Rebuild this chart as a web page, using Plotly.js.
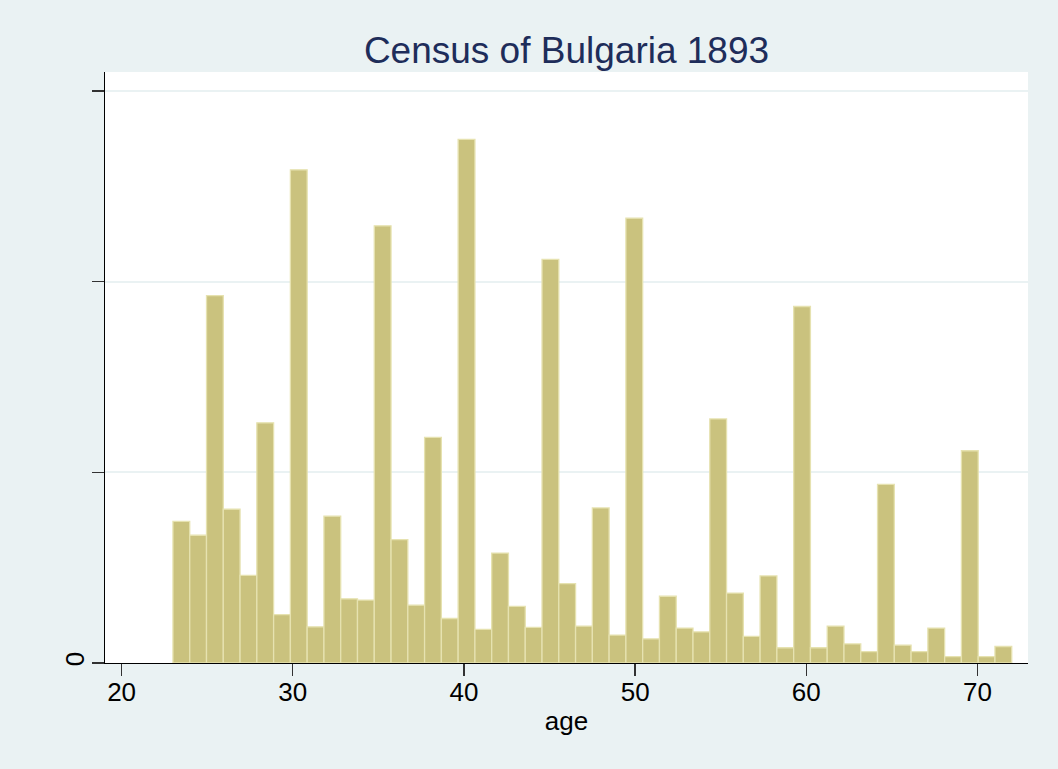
<!DOCTYPE html>
<html>
<head>
<meta charset="utf-8">
<script src="https://cdn.plot.ly/plotly-3.0.1.min.js"></script>
<style>
  html, body { margin: 0; padding: 0; background: rgb(234,242,243); }
  #chart { width: 1058px; height: 769px; }
</style>
</head>
<body>
<div id="chart"></div>
<script>
// Ages (one histogram bin per single year of age)
const ages = [23,24,25,26,27,28,29,30,31,32,33,34,35,36,37,38,39,40,41,42,
              43,44,45,46,47,48,49,50,51,52,53,54,55,56,57,58,59,60,61,62,
              63,64,65,66,67,68,69,70,71,72];
// Density
const density = [0.0223,0.0201,0.0578,0.0242,0.0138,0.0378,0.0076,0.0776,0.0057,0.0231,
                 0.0101,0.0099,0.0688,0.0194,0.0091,0.0355,0.0070,0.0824,0.0053,0.0173,
                 0.0089,0.0056,0.0635,0.0125,0.0058,0.0244,0.0044,0.0700,0.0038,0.0105,
                 0.0055,0.0049,0.0384,0.0110,0.0042,0.0137,0.0024,0.0561,0.0024,0.0058,
                 0.0030,0.0018,0.0281,0.0028,0.0018,0.0055,0.0010,0.0334,0.0010,0.0026];
const xTickVals = [20,30,40,50,60,70];
const yTickVals = [0,0.03,0.06,0.09];
const yTickText = ["0","","",""];

// Histogram bins: 50 equal bins spanning min..max of age
const nBins = ages.length;
const amin = Math.min(...ages), amax = Math.max(...ages);
const binW = (amax - amin) / nBins;
const binLeft = ages.map((a, i) => amin + i * binW);

const trace = {
  type: 'bar',
  x: binLeft,
  y: density,
  width: binW,
  offset: 0,
  marker: {
    color: 'rgb(202,194,126)',
    line: { color: 'rgb(230,226,176)', width: 1.3 }
  },
  hoverinfo: 'skip'
};

const layout = {
  width: 1058,
  height: 769,
  paper_bgcolor: 'rgb(234,242,243)',
  plot_bgcolor: 'rgb(255,255,255)',
  margin: { l: 105, r: 30, t: 72, b: 106, pad: 0 },
  showlegend: false,
  font: { family: 'Liberation Sans, Arial, sans-serif', color: 'rgb(0,0,0)' },
  title: {
    text: 'Census of Bulgaria 1893',
    font: { family: 'Liberation Sans, Arial, sans-serif', size: 37, color: 'rgb(30,45,90)' },
    x: 0.5, xref: 'paper',
    y: 1 - 50/769, yref: 'container', yanchor: 'middle'
  },
  xaxis: {
    range: [19.03, 72.95],
    tickvals: xTickVals,
    ticks: 'outside', ticklen: 12, tickwidth: 1.3, tickcolor: 'rgb(50,50,50)',
    tickfont: { size: 26, color: 'rgb(0,0,0)' },
    ticklabelstandoff: -7,
    showline: true, linecolor: 'rgb(0,0,0)', linewidth: 1.3,
    showgrid: false, zeroline: false,
    title: { text: 'age', font: { size: 26, color: 'rgb(0,0,0)' }, standoff: 6 }
  },
  yaxis: {
    range: [0, 0.093],
    tickvals: yTickVals,
    ticktext: yTickText,
    tickangle: -90,
    ticks: 'outside', ticklen: 12, tickwidth: 1.3, tickcolor: 'rgb(50,50,50)',
    tickfont: { size: 26, color: 'rgb(0,0,0)' },
    ticklabelstandoff: -3,
    showline: true, linecolor: 'rgb(0,0,0)', linewidth: 1.3,
    showgrid: true, gridcolor: 'rgb(234,242,243)', gridwidth: 2,
    zeroline: false
  }
};

Plotly.newPlot('chart', [trace], layout, { displayModeBar: false, staticPlot: true });
</script>
</body>
</html>
